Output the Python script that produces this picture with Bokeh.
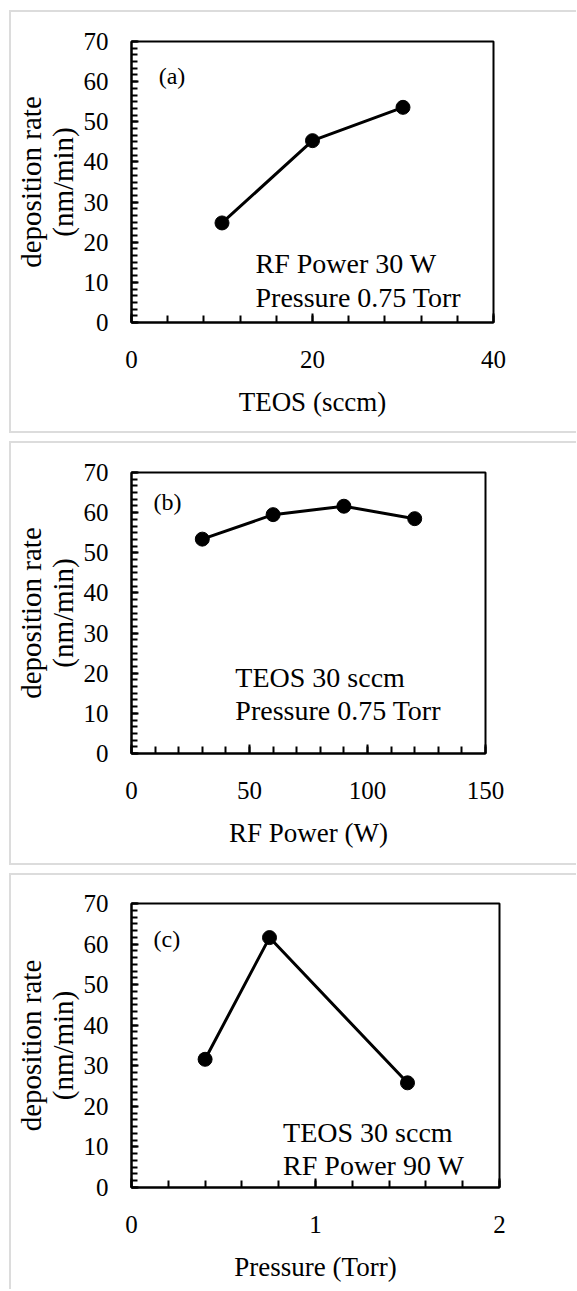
from bokeh.plotting import figure
from bokeh.layouts import column, row
from bokeh.models import Range1d, SingleIntervalTicker, Spacer
from bokeh.core.properties import value
from bokeh.embed import file_html
from bokeh.resources import INLINE

# ---- data ----
teos_sccm = [10, 20, 30]
rate_teos = [24.8, 45.3, 53.6]

rf_power_w = [30, 60, 90, 120]
rate_power = [53.4, 59.5, 61.6, 58.5]

pressure_torr = [0.4, 0.75, 1.5]
rate_pressure = [31.6, 61.6, 25.8]

y_label = "deposition rate\n(nm/min)"
FONT = "Liberation Serif"
GRAY = "#dcdcdc"
FIG_W = 565


def make_panel(xs, ys, xmax, xint, xlabel, width, height, left, top, right, bottom,
               tag, tag_xy, notes, notes_xy):
    p = figure(width=width, height=height, output_backend="svg", toolbar_location=None,
               x_range=Range1d(0, xmax), y_range=Range1d(0, 70),
               min_border_left=left, min_border_top=top,
               min_border_right=right, min_border_bottom=bottom)
    p.background_fill_color = "white"
    p.border_fill_color = "white"
    p.outline_line_color = "black"
    p.outline_line_width = 2
    p.outline_line_alpha = 1
    p.xgrid.visible = False
    p.ygrid.visible = False

    p.xaxis.ticker = SingleIntervalTicker(interval=xint, num_minor_ticks=5)
    p.yaxis.ticker = SingleIntervalTicker(interval=10, num_minor_ticks=6)
    for ax in (p.xaxis[0], p.yaxis[0]):
        ax.axis_line_color = "black"
        ax.axis_line_width = 2
        ax.major_tick_line_color = "black"
        ax.minor_tick_line_color = "black"
        ax.major_tick_line_width = 2
        ax.minor_tick_line_width = 2
        ax.major_tick_out = 0
        ax.minor_tick_out = 0
        ax.major_label_text_font = FONT
        ax.major_label_text_font_size = "25px"
        ax.major_label_text_color = "black"
        ax.axis_label_text_font = FONT
        ax.axis_label_text_font_style = "normal"
        ax.axis_label_text_color = "black"
    p.xaxis.major_tick_in = 9
    p.xaxis.minor_tick_in = 7
    p.yaxis.major_tick_in = 7
    p.yaxis.minor_tick_in = 6
    p.xaxis.major_label_standoff = 28
    p.yaxis.major_label_standoff = 23
    p.xaxis.axis_label = xlabel
    p.xaxis.axis_label_text_font_size = "27px"
    p.xaxis.axis_label_standoff = 16
    p.yaxis.axis_label = y_label
    p.yaxis.axis_label_text_font_size = "29px"
    p.yaxis.axis_label_text_line_height = 1.0
    p.yaxis.axis_label_standoff = 2

    p.line(xs, ys, line_color="black", line_width=3)
    p.scatter(xs, ys, size=14, fill_color="black", line_color="black")

    p.text(x=[tag_xy[0]], y=[tag_xy[1]], text=[tag], text_font=value(FONT),
           text_font_size="24px", text_baseline="middle", text_align="left", text_color="black")
    p.text(x=[notes_xy[0]] * len(notes), y=notes_xy[1], text=notes, text_font=value(FONT),
           text_font_size="28px", text_baseline="alphabetic", text_align="left", text_color="black")
    return p


def gray(w, h):
    return Spacer(width=w, height=h, styles={"background-color": GRAY})


def framed(fig, w, h, bottom_border=True):
    inner = [gray(w, 2), fig]
    total_h = h + 2
    if bottom_border:
        inner.append(gray(w, 2))
        total_h += 2
    return row(Spacer(width=9, height=total_h), gray(2, total_h), column(*inner, spacing=0), spacing=0)


pa = make_panel(teos_sccm, rate_teos, 40, 20, "TEOS (sccm)", FIG_W, 419, 120, 29, 83, 109,
                "(a)", (3, 61.3), ["RF Power 30 W", "Pressure 0.75 Torr"], (13.7, [14.7, 6.2]))
pb = make_panel(rf_power_w, rate_power, 150, 50, "RF Power (W)", FIG_W, 420, 120, 29, 91, 110,
                "(b)", (9.3, 62.6), ["TEOS 30 sccm", "Pressure 0.75 Torr"], (44, [19.0, 10.7]))
pc = make_panel(pressure_torr, rate_pressure, 2, 1, "Pressure (Torr)", FIG_W, 414, 120, 28, 77, 102,
                "(c)", (0.12, 61.3), ["TEOS 30 sccm", "RF Power 90 W"], (0.824, [13.6, 5.4]))

layout = column(
    Spacer(width=FIG_W + 11, height=10),
    framed(pa, FIG_W, 419),
    Spacer(width=FIG_W + 11, height=8),
    framed(pb, FIG_W, 420),
    Spacer(width=FIG_W + 11, height=8),
    framed(pc, FIG_W, 414, bottom_border=False),
    spacing=0,
)

open("out.html", "w").write(file_html(layout, INLINE))
